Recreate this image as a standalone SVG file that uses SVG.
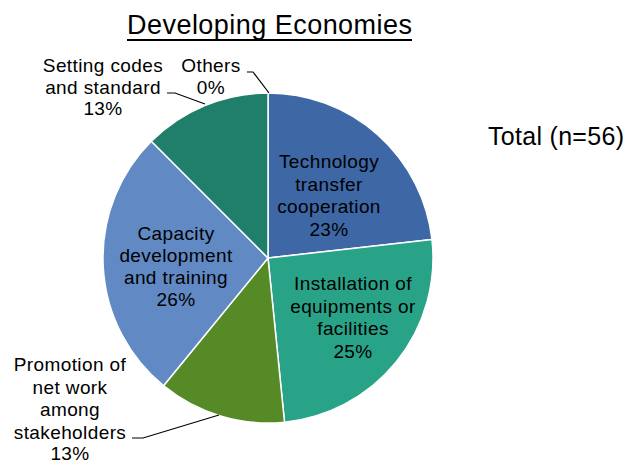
<svg xmlns="http://www.w3.org/2000/svg" width="628" height="463" viewBox="0 0 628 463">
<style>
text{font-family:"Liberation Sans",Arial,sans-serif;fill:#000;}
.lbl{font-size:19px;text-anchor:middle;letter-spacing:0.4px;}
.slice{stroke:#fff;stroke-width:1.5;stroke-linejoin:round;}
.lead{fill:none;stroke:#000;stroke-width:1.2;}
</style>
<rect width="628" height="463" fill="#fff"/>
<g id="title">
<text x="269.5" y="34" font-size="27" text-anchor="middle" textLength="285" lengthAdjust="spacing">Developing Economies</text>
<rect x="127" y="39" width="285" height="2" fill="#000"/>
</g>
<g id="total"><text x="488" y="145" font-size="25" textLength="136" lengthAdjust="spacing">Total (n=56)</text></g>
<g id="slice-technology"><path class="slice" fill="#3D67A5" d="M268,258 L268,93 A165,165 0 0 1 431.96,239.53 Z"/>
<text class="lbl" x="329" y="168">Technology</text><text class="lbl" x="329" y="190.5">transfer</text><text class="lbl" x="329" y="213">cooperation</text><text class="lbl" x="329" y="235.5">23%</text></g>
<g id="slice-installation"><path class="slice" fill="#29A387" d="M268,258 L431.96,239.53 A165,165 0 0 1 284.5,422.2 Z"/>
<text class="lbl" x="353" y="290">Installation of</text><text class="lbl" x="353" y="312.5">equipments or</text><text class="lbl" x="353" y="335">facilities</text><text class="lbl" x="353" y="357.5">25%</text></g>
<g id="slice-promotion"><path class="slice" fill="#558A27" d="M268,258 L284.5,422.2 A165,165 0 0 1 163.5,385.7 Z"/>
<text class="lbl" x="70" y="371">Promotion of</text><text class="lbl" x="70" y="393.5">net work</text><text class="lbl" x="70" y="416">among</text><text class="lbl" x="70" y="438.5">stakeholders</text><text class="lbl" x="70" y="460">13%</text></g>
<g id="slice-capacity"><path class="slice" fill="#6189C4" d="M268,258 L163.5,385.7 A165,165 0 0 1 151.33,141.33 Z"/>
<text class="lbl" x="176" y="240">Capacity</text><text class="lbl" x="176" y="262">development</text><text class="lbl" x="176" y="283.5">and training</text><text class="lbl" x="176" y="305.5">26%</text></g>
<g id="slice-setting"><path class="slice" fill="#207F6A" d="M268,258 L151.33,141.33 A165,165 0 0 1 268,93 Z"/>
<text class="lbl" x="103" y="72">Setting codes</text><text class="lbl" x="103" y="93.5">and standard</text><text class="lbl" x="103" y="115">13%</text></g>
<g id="slice-others"><text class="lbl" x="211" y="72">Others</text><text class="lbl" x="211" y="93.5">0%</text></g>
<g id="connectors">
<polyline class="lead" points="247,72 253,72 269,93"/>
<polyline class="lead" points="167,93 175,93 205,104"/>
<polyline class="lead" points="132,438 143,438 219,415"/>
</g>
</svg>
